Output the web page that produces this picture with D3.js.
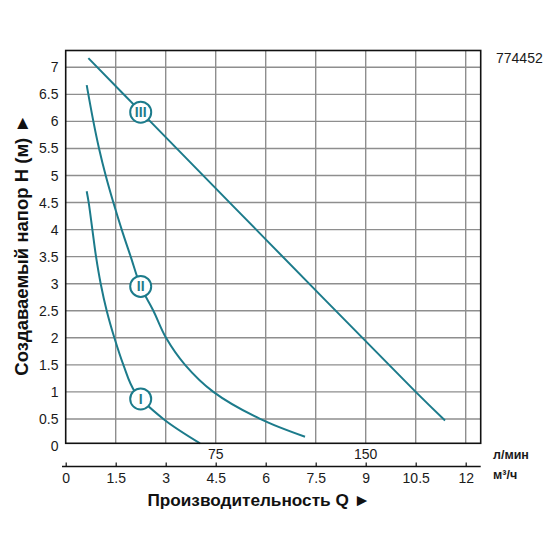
<!DOCTYPE html>
<html>
<head>
<meta charset="utf-8">
<script src="https://cdn.jsdelivr.net/npm/d3@7"></script>
<style>
html,body{margin:0;padding:0;background:#fff;}
svg{display:block;font-family:"Liberation Sans",Arial,sans-serif;}
</style>
</head>
<body>
<svg id="chart" width="560" height="560"></svg>
<script>
// ---- data ----
const xTicks = [0, 1.5, 3, 4.5, 6, 7.5, 9, 10.5, 12];          // м³/ч
const xTickLabels = ["0","1.5","3","4.5","6","7.5","9","10.5","12"];
const yTicks = [0,0.5,1,1.5,2,2.5,3,3.5,4,4.5,5,5.5,6,6.5,7];
const yTickLabels = ["0","0.5","1","1.5","2","2.5","3","3.5","4","4.5","5","5.5","6","6.5","7"];
const lpmTicks = [75, 150];                                     // л/мин
const curveNames = ["I", "II", "III"];
const curveIq = [0.63, 0.69, 0.80, 0.91, 1.05, 1.23, 1.46, 1.73, 2.08, 2.93, 4.03];
const curveIh = [4.71, 4.5, 4.0, 3.5, 3.0, 2.5, 2.0, 1.5, 1.0, 0.5, 0.05];
const curveIIq = [0.63, 0.83, 1.0, 1.2, 1.43, 1.68, 1.95, 2.25, 2.63, 3.01, 3.58, 4.43, 5.83, 7.18];
const curveIIh = [6.67, 6.0, 5.5, 5.0, 4.5, 4.0, 3.5, 2.95, 2.5, 2.0, 1.5, 1.0, 0.5, 0.17];
const curveIIIq = [0.68, 2.25, 6.0, 10.5, 11.38];
const curveIIIh = [7.17, 6.18, 3.82, 1.0, 0.47];
const labelQ = [2.25, 2.25, 2.25];
const labelH = [0.87, 2.95, 6.17];
const modelCode = "774452";

// ---- layout ----
const svg = d3.select("#chart");
const plot = {left: 65.7, right: 480.7, top: 50.5, bottom: 443.3};
const x = d3.scaleLinear().domain([0, 12]).range([65.7, 465.7]);
const y = d3.scaleLinear().domain([0, 7]).range([446, 67.3]);
const teal = "#1c7b8b";

// grid
const g = svg.append("g");
g.selectAll("line.vg").data(xTicks.filter(d => d > 0)).enter().append("line")
  .attr("x1", d => x(d)).attr("x2", d => x(d))
  .attr("y1", plot.top).attr("y2", plot.bottom)
  .attr("stroke", "#8e8e8e").attr("stroke-width", 1.4);
g.selectAll("line.hg").data(yTicks.filter(d => d > 0)).enter().append("line")
  .attr("x1", plot.left).attr("x2", plot.right)
  .attr("y1", d => y(d)).attr("y2", d => y(d))
  .attr("stroke", "#8e8e8e").attr("stroke-width", 1.4);

// curves
const line = d3.line().x(d => x(d[0])).y(d => y(d[1])).curve(d3.curveCatmullRom.alpha(0.5));
const curves = [
  d3.zip(curveIq, curveIh),
  d3.zip(curveIIq, curveIIh),
  d3.zip(curveIIIq, curveIIIh)
];
svg.selectAll("path.curve").data(curves).enter().append("path")
  .attr("d", line)
  .attr("fill", "none").attr("stroke", teal).attr("stroke-width", 2);

// frame
svg.append("rect")
  .attr("x", plot.left).attr("y", plot.top)
  .attr("width", plot.right - plot.left).attr("height", plot.bottom - plot.top)
  .attr("fill", "none").attr("stroke", "#111").attr("stroke-width", 1.6);

// curve labels
const lab = svg.selectAll("g.lab").data(curveNames).enter().append("g")
  .attr("transform", (d, i) => `translate(${x(labelQ[i])},${y(labelH[i])})`);
lab.append("circle").attr("r", 10.5).attr("fill", "#fff")
  .attr("stroke", teal).attr("stroke-width", 2);
lab.append("text").text(d => d)
  .attr("text-anchor", "middle").attr("dy", "0.36em")
  .attr("font-size", 14).attr("font-weight", "bold").attr("fill", teal);

// y tick labels
svg.selectAll("text.yt").data(yTicks).enter().append("text")
  .attr("x", 58.5).attr("y", d => y(d)).attr("dy", "0.36em")
  .attr("text-anchor", "end").attr("font-size", 14).attr("fill", "#1a1a1a")
  .text((d, i) => yTickLabels[i]);

// л/мин labels
svg.selectAll("text.lpm").data(lpmTicks).enter().append("text")
  .attr("x", d => x(d * 60 / 1000)).attr("y", 454).attr("dy", "0.36em")
  .attr("text-anchor", "middle").attr("font-size", 14).attr("fill", "#1a1a1a")
  .text(d => d);

// m3/h axis
const ax = d3.axisBottom(x).tickValues(xTicks).tickSize(0).tickFormat((d, i) => xTickLabels[i]);
const axG = svg.append("g").attr("transform", "translate(0,466.5)").call(ax);
axG.select(".domain").attr("d", `M${62},0H${plot.right}`).attr("stroke", "#111").attr("stroke-width", 1.6);
axG.selectAll(".tick line").attr("y1", 0).attr("y2", -4).attr("stroke", "#111").attr("stroke-width", 1.2);
axG.selectAll(".tick text").attr("y", 7).attr("font-size", 14).attr("fill", "#1a1a1a")
  .attr("font-family", "Liberation Sans, Arial, sans-serif");

// unit labels
svg.append("text").attr("x", 493).attr("y", 454).attr("dy", "0.36em")
  .attr("font-size", 12.5).attr("font-weight", "bold").attr("fill", "#1a1a1a").text("л/мин");
svg.append("text").attr("x", 493).attr("y", 474).attr("dy", "0.36em")
  .attr("font-size", 12.5).attr("font-weight", "bold").attr("fill", "#1a1a1a").text("м³/ч");

// model code
svg.append("text").attr("x", 496).attr("y", 58).attr("dy", "0.36em")
  .attr("font-size", 14).attr("fill", "#1a1a1a").text(modelCode);

// axis titles
svg.append("text").attr("x", 259).attr("y", 500).attr("dy", "0.36em")
  .attr("text-anchor", "middle").attr("font-size", 17.2).attr("font-weight", "bold")
  .attr("fill", "#111").text("Производительность Q ►");
svg.append("text").attr("transform", "translate(21,245) rotate(-90)").attr("dy", "0.36em")
  .attr("text-anchor", "middle").attr("font-size", 18.5).attr("font-weight", "bold")
  .attr("fill", "#111").text("Создаваемый напор H (м) ►");
</script>
</body>
</html>
